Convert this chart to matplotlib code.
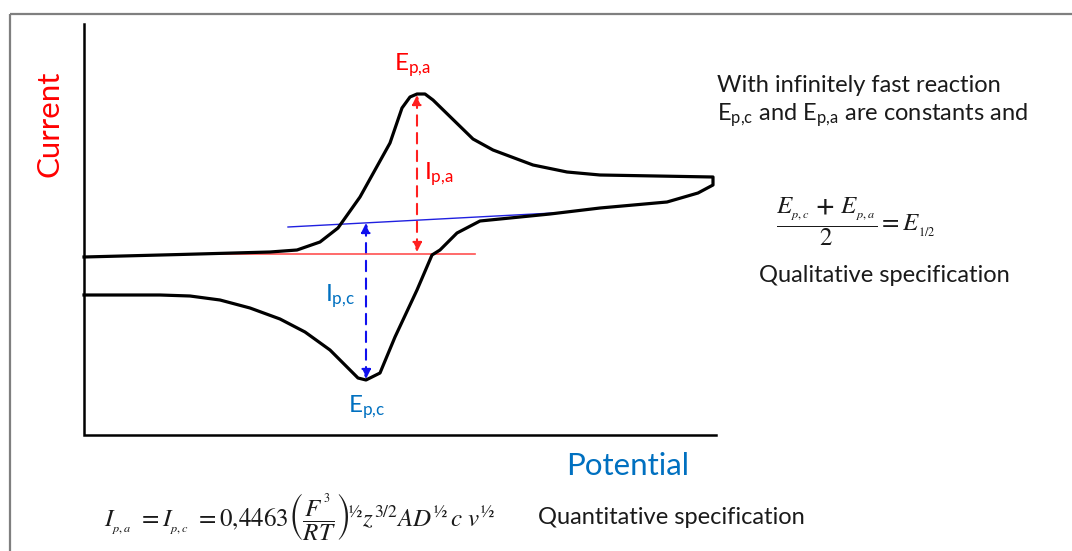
import matplotlib
matplotlib.use("Agg")
import matplotlib.pyplot as plt
from matplotlib.patches import FancyArrowPatch, Rectangle

plt.rcParams['font.family'] = ['Lato', 'DejaVu Sans']
plt.rcParams['mathtext.fontset'] = 'custom'
plt.rcParams['mathtext.rm'] = 'Lato'
plt.rcParams['mathtext.it'] = 'Lato:italic'
plt.rcParams['mathtext.bf'] = 'Lato:bold'

# Cyclic voltammogram loop (potential, current) in drawing units (y grows downward)
cv_potential = [84, 160, 190, 220, 250, 280, 305, 330, 358, 366, 380, 395, 417, 432, 440,
                457, 480, 550, 600, 667, 698, 713, 713, 600, 567, 533, 493, 473, 433,
                425, 417, 410, 402, 390, 360, 338, 320, 297, 270, 180, 84]
cv_current = [295, 295, 296, 300, 308, 319, 332, 350, 378, 380, 373, 337, 290, 255, 250,
              233, 221, 214, 208, 202, 193, 185, 177, 175, 172, 165, 150, 139, 100,
              94, 94, 97, 108, 143, 197, 228, 242, 250, 252, 254.5, 257]

# axes of the sketch
axis_x = [84, 84, 716]
axis_y = [24, 435, 435]

# baselines
red_base_x = [178, 475]
red_base_y = [254, 254]
blue_base_x = [288, 553]
blue_base_y = [227, 213]

# peak arrows: (x, y_from, y_to)
anodic_arrow = (417, 252, 95)
cathodic_arrow = (366, 223, 379)

fig = plt.figure(figsize=(10.72, 5.51), dpi=100)
ax = fig.add_axes([0, 0, 1, 1])
ax.set_xlim(0, 1072)
ax.set_ylim(551, 0)
ax.axis('off')

# frame
ax.add_patch(Rectangle((10, 14), 1100, 600, fill=False, edgecolor='#7f7f7f', lw=1.6))

ax.plot(axis_x, axis_y, color='black', lw=1.8, solid_joinstyle='miter')
ax.plot(red_base_x, red_base_y, color='#ff5050', lw=1.2)
ax.plot(blue_base_x, blue_base_y, color='#2020e0', lw=1.0)
ax.plot(cv_potential, cv_current, color='black', lw=2.3, solid_joinstyle='round')

def dbl_arrow(x, y0, y1, color):
    a = FancyArrowPatch((x, y0), (x, y1), arrowstyle='<|-|>', mutation_scale=14,
                        color=color, lw=1.5, linestyle=(0, (5, 3.5)), shrinkA=0, shrinkB=0)
    ax.add_patch(a)

dbl_arrow(anodic_arrow[0], anodic_arrow[1], anodic_arrow[2], '#ff2020')
dbl_arrow(cathodic_arrow[0], cathodic_arrow[1], cathodic_arrow[2], '#1010ee')

red = '#ff0000'
blue = '#0070c0'
ink = '#1a1a1a'

ax.text(412, 65, r'E$_{\mathrm{p{,}a}}$', color=red, fontsize=17.5, ha='center', va='center')
ax.text(424, 174, r'I$_{\mathrm{p{,}a}}$', color=red, fontsize=17.5, ha='left', va='center')
ax.text(325, 296, r'I$_{\mathrm{p{,}c}}$', color=blue, fontsize=17.5, ha='left', va='center')
ax.text(367, 407, r'E$_{\mathrm{p{,}c}}$', color=blue, fontsize=17.5, ha='center', va='center')

ax.text(50, 124, 'Current', color=red, fontsize=22.5, rotation=90, ha='center', va='center')
ax.text(628, 466, 'Potential', color=blue, fontsize=22.5, ha='center', va='center')

ax.text(717, 85, 'With infinitely fast reaction', color=ink, fontsize=17,
        ha='left', va='center')
ax.text(717, 115, r'E$_{\mathrm{p{,}c}}$ and E$_{\mathrm{p{,}a}}$ are constants and', color=ink,
        fontsize=17, ha='left', va='center')

ax.text(856, 222, r'$\dfrac{E_{_{p,c}}\ \mathbf{+}\ E_{_{p,a}}}{2} = E_{_{1/2}}$', color=ink,
        fontsize=18, ha='center', va='center', math_fontfamily='stix')
ax.text(884, 275, 'Qualitative specification', color=ink, fontsize=17,
        ha='center', va='center')

ax.text(104, 518,
        r'$I_{_{p,a}}\ =I_{_{p,c}}\ =0{,}4463\left(\dfrac{F^{^3}}{RT}\right)^{\!½} z^{3/2}AD^{½}\,c\ v^{½}$',
        color=ink, fontsize=18, ha='left', va='center', math_fontfamily='stix')
ax.text(538, 518, 'Quantitative specification', color=ink, fontsize=17,
        ha='left', va='center')

fig.savefig('out.png', dpi=100)
